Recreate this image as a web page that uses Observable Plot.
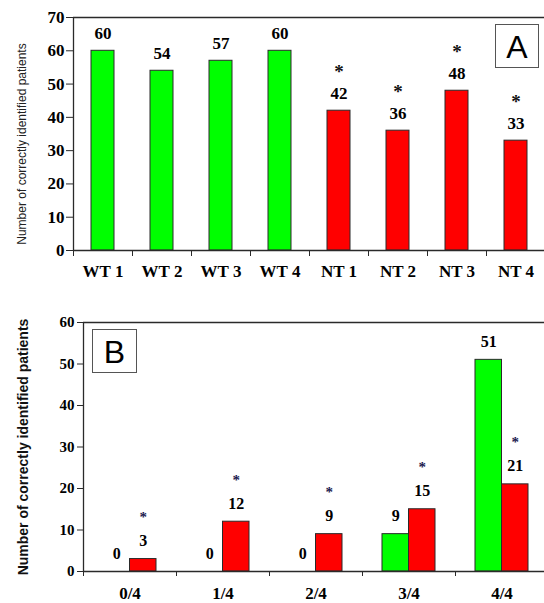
<!DOCTYPE html>
<html><head><meta charset="utf-8">
<script src="https://cdn.jsdelivr.net/npm/d3@7"></script>
<script src="https://cdn.jsdelivr.net/npm/@observablehq/plot@0.6"></script>
<style>body{margin:0;background:#fff} svg{display:block}</style>
</head><body><div id="chart"></div>
<script>
// Panel A data
const groupsA = ["WT 1","WT 2","WT 3","WT 4","NT 1","NT 2","NT 3","NT 4"];
const valuesA = [60,54,57,60,42,36,48,33];
const signifA = [false,false,false,false,true,true,true,true];
const ticksA = [0,10,20,30,40,50,60,70];
// Panel B data
const groupsB = ["0/4","1/4","2/4","3/4","4/4"];
const greenB = [0,0,0,9,51];
const redB = [3,12,9,15,21];
const signifB = [true,true,true,true,true];
const ticksB = [0,10,20,30,40,50,60];
const yLabel = "Number of correctly identified patients";

const GREEN = "#00ff00", RED = "#ff0000", INK = "#2a2a2a";
const serif = "Liberation Serif";
const sans = "Liberation Sans";

function cornerBox(letter, side, offX, offY, w, h) {
  return (index, scales, values, dims) => {
    const ns = "http://www.w3.org/2000/svg";
    const g = document.createElementNS(ns, "g");
    const x0 = side === "right" ? dims.width - dims.marginRight - offX - w : dims.marginLeft + offX;
    const y0 = dims.marginTop + offY;
    const r = document.createElementNS(ns, "rect");
    r.setAttribute("x", x0 + 0.5); r.setAttribute("y", y0 + 0.5);
    r.setAttribute("width", w); r.setAttribute("height", h);
    r.setAttribute("fill", "#fff"); r.setAttribute("stroke", "#555"); r.setAttribute("stroke-width", 1);
    const t = document.createElementNS(ns, "text");
    t.setAttribute("x", x0 + w / 2 + 0.5); t.setAttribute("y", y0 + h / 2 + 1);
    t.setAttribute("text-anchor", "middle"); t.setAttribute("dominant-baseline", "central");
    t.setAttribute("font-family", sans); t.setAttribute("font-size", 32); t.setAttribute("font-weight", "normal");
    t.setAttribute("fill", "#000");
    t.textContent = letter;
    g.append(r, t);
    return g;
  };
}

const txt = {fontFamily: serif, fontWeight: "bold", fill: "#000"};

const dataA = groupsA.map((g, i) => ({g, i, v: valuesA[i], sig: signifA[i], color: g.startsWith("WT") ? GREEN : RED}));

const plotA = Plot.plot({
  width: 544, height: 285,
  marginLeft: 73, marginRight: 0, marginTop: 17, marginBottom: 35,
  style: {background: "#fff"},
  x: {domain: [0, groupsA.length], range: [73, 545]},
  y: {domain: [0, 70]},
  color: {type: "identity"},
  marks: [
    Plot.rectY(dataA, {x1: "i", x2: d => d.i + 1, y: "v", insetLeft: 18, insetRight: 18, fill: "color", stroke: INK, strokeWidth: 1}),
    Plot.ruleY([0, 70], {stroke: INK, strokeWidth: 1.3}),
    Plot.ruleX([0], {stroke: INK, strokeWidth: 1.3}),
    Plot.axisY(ticksA, {...txt, tickSize: 7, tickPadding: 2, label: null, fontSize: 17, stroke: INK}),
    Plot.axisX(d3.range(groupsA.length + 1), {tickSize: 6, tickFormat: () => "", label: null, stroke: INK}),
    Plot.text(dataA, {...txt, x: d => d.i + 0.5, text: "g", frameAnchor: "bottom", dy: 26, fontSize: 17}),
    Plot.text(dataA, {...txt, x: d => d.i + 0.5, y: "v", text: d => String(d.v), dy: -17, fontSize: 17}),
    Plot.text(dataA.filter(d => d.sig), {...txt, x: d => d.i + 0.5, y: "v", text: () => "*", dy: -39, fontSize: 19, fill: "#111"}),
    Plot.text([yLabel], {frameAnchor: "left", textAnchor: "middle", rotate: -90, dx: -51, dy: 10, fontSize: 12, fontFamily: sans, fontWeight: "normal", fill: "#222"}),
    cornerBox("A", "right", 6, 7, 43, 43)
  ]
});

const dataB = groupsB.map((g, i) => ({g, i, green: greenB[i], red: redB[i], sig: signifB[i]}));
const BW = 0.285;

const plotB = Plot.plot({
  width: 544, height: 318,
  marginLeft: 83, marginRight: 0, marginTop: 37, marginBottom: 32,
  style: {background: "#fff"},
  x: {domain: [0, groupsB.length], range: [83, 548]},
  y: {domain: [0, 60]},
  marks: [
    Plot.rectY(dataB.filter(d => d.green > 0), {x1: d => d.i + 0.5 - BW, x2: d => d.i + 0.5, y: "green", fill: GREEN, stroke: INK, strokeWidth: 1}),
    Plot.rectY(dataB.filter(d => d.red > 0), {x1: d => d.i + 0.5, x2: d => d.i + 0.5 + BW, y: "red", fill: RED, stroke: INK, strokeWidth: 1}),
    Plot.ruleY([0, 60], {stroke: INK, strokeWidth: 1.3}),
    Plot.ruleX([0], {stroke: INK, strokeWidth: 1.3}),
    Plot.axisY(ticksB, {...txt, tickSize: 6, tickPadding: 3, label: null, fontSize: 15, stroke: INK}),
    Plot.axisX(d3.range(groupsB.length + 1), {tickSize: 5, tickFormat: () => "", label: null, stroke: INK}),
    Plot.text(dataB, {...txt, x: d => d.i + 0.5, text: "g", frameAnchor: "bottom", dy: 27, fontSize: 17}),
    Plot.text(dataB, {...txt, x: d => d.i + 0.5 - BW / 2, y: "green", text: d => String(d.green), dy: -18, fontSize: 16}),
    Plot.text(dataB, {...txt, x: d => d.i + 0.5 + BW / 2, y: "red", text: d => String(d.red), dy: -18, fontSize: 16}),
    Plot.text(dataB.filter(d => d.sig), {...txt, x: d => d.i + 0.5 + BW / 2, y: "red", text: () => "*", dy: -42, fontSize: 15, fill: "#1a1a50"}),
    Plot.text([yLabel], {frameAnchor: "left", textAnchor: "middle", rotate: -90, dx: -60, dy: 0, fontSize: 14, fontFamily: sans, fontWeight: "bold", fill: "#111"}),
    cornerBox("B", "left", 9, 7, 44, 43)
  ]
});

document.getElementById("chart").append(plotA, plotB);
</script>
</body></html>
